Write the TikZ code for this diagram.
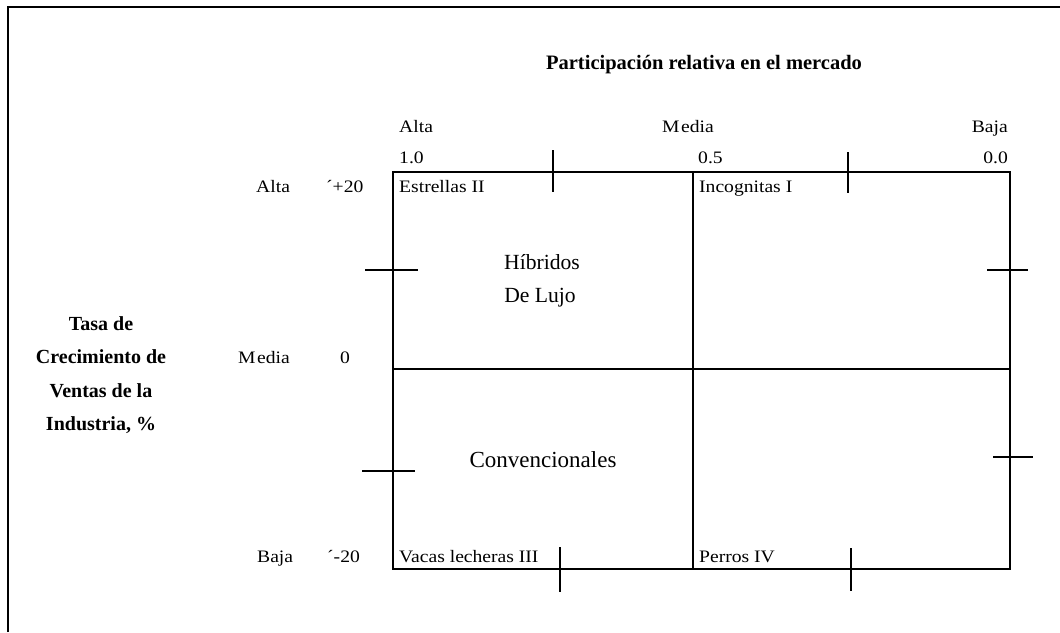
\documentclass[tikz,border=0pt]{standalone}
\usepackage{fontspec}
\setmainfont{Liberation Serif}
\newfontfamily\widefont[FakeStretch=1.12]{Liberation Serif}
\begin{document}
\begin{tikzpicture}[x=1pt,y=-1pt,
  gridline/.style={line width=1.6pt},
  tickmark/.style={line width=2.4pt},
  lbl/.style={inner sep=0pt,anchor=base west,font=\widefont\fontsize{17.5}{20}\selectfont},
  lblr/.style={lbl,anchor=base east},
  big/.style={inner sep=0pt,anchor=base},
  hd/.style={inner sep=0pt,anchor=base,font=\fontsize{20.5}{24}\selectfont\bfseries}]
\useasboundingbox (0,0) rectangle (1060,632);
% page frame (top and left edges)
\draw[line width=2pt] (8,632) -- (8,7) -- (1060,7);
% matrix corners
\coordinate (tl) at (393,172);
\coordinate (tm) at (693,172);
\coordinate (tr) at (1010,172);
\coordinate (ml) at (393,369);
\coordinate (mr) at (1010,369);
\coordinate (bl) at (393,569);
\coordinate (bm) at (693,569);
\coordinate (br) at (1010,569);
\draw[gridline] (tl) -- (tr) -- (br) -- (bl) -- cycle;
\draw[gridline] (tm) -- (bm);
\draw[gridline] (ml) -- (mr);
% tick marks
\coordinate (t1a) at (553,150); \coordinate (t1b) at (553,192);
\coordinate (t2a) at (848,152); \coordinate (t2b) at (848,193);
\coordinate (t3a) at (560,547); \coordinate (t3b) at (560,592);
\coordinate (t4a) at (851,548); \coordinate (t4b) at (851,591);
\coordinate (t5a) at (365,270); \coordinate (t5b) at (418,270);
\coordinate (t6a) at (362,471); \coordinate (t6b) at (415,471);
\coordinate (t7a) at (987,270); \coordinate (t7b) at (1028,270);
\coordinate (t8a) at (993,457); \coordinate (t8b) at (1033,457);
\foreach \p in {1,...,8} \draw[tickmark] (t\p a) -- (t\p b);
% axis titles
\node[hd] (title) at (704,69) {Participación relativa en el mercado};
\node[hd,font=\fontsize{20}{24}\selectfont\bfseries] (yt1) at (101,330) {Tasa de};
\node[hd,font=\fontsize{20}{24}\selectfont\bfseries] (yt2) at (101,363) {Crecimiento de};
\node[hd,font=\fontsize{20}{24}\selectfont\bfseries] (yt3) at (101,397) {Ventas de la};
\node[hd,font=\fontsize{20}{24}\selectfont\bfseries] (yt4) at (101,430) {Industria, \%};
% horizontal scale
\node[lbl] (xa) at (399,132) {Alta};
\node[lbl] (xm) at (662,132) {M\kern1.5pt edia};
\node[lblr] (xb) at (1008,132) {Baja};
\node[lbl] (x10) at (399,163) {1.0};
\node[lbl] (x05) at (698,163) {0.5};
\node[lblr] (x00) at (1008,163) {0.0};
% vertical scale
\node[lbl] (ya) at (256,192) {Alta};
\node[lbl] (ym) at (238,363) {M\kern1.5pt edia};
\node[lbl] (yb) at (257,562) {Baja};
\node[lbl] (yp) at (326,192) {´+20};
\node[lbl] (y0) at (340,363) {0};
\node[lbl] (yn) at (327,562) {´-20};
% quadrant names
\node[lbl] (q2) at (399,192) {Estrellas II};
\node[lbl] (q1) at (699,192) {Incognitas I};
\node[lbl] (q3) at (399,562) {Vacas lecheras III};
\node[lbl] (q4) at (699,562) {Perros IV};
% product groups
\node[big,font=\fontsize{21.6}{26}\selectfont] (hib1) at (542,269) {Híbridos};
\node[big,font=\fontsize{21.6}{26}\selectfont] (hib2) at (540,302) {De Lujo};
\node[big,font=\fontsize{23}{28}\selectfont] (conv) at (543,467) {Convencionales};
\end{tikzpicture}
\end{document}
